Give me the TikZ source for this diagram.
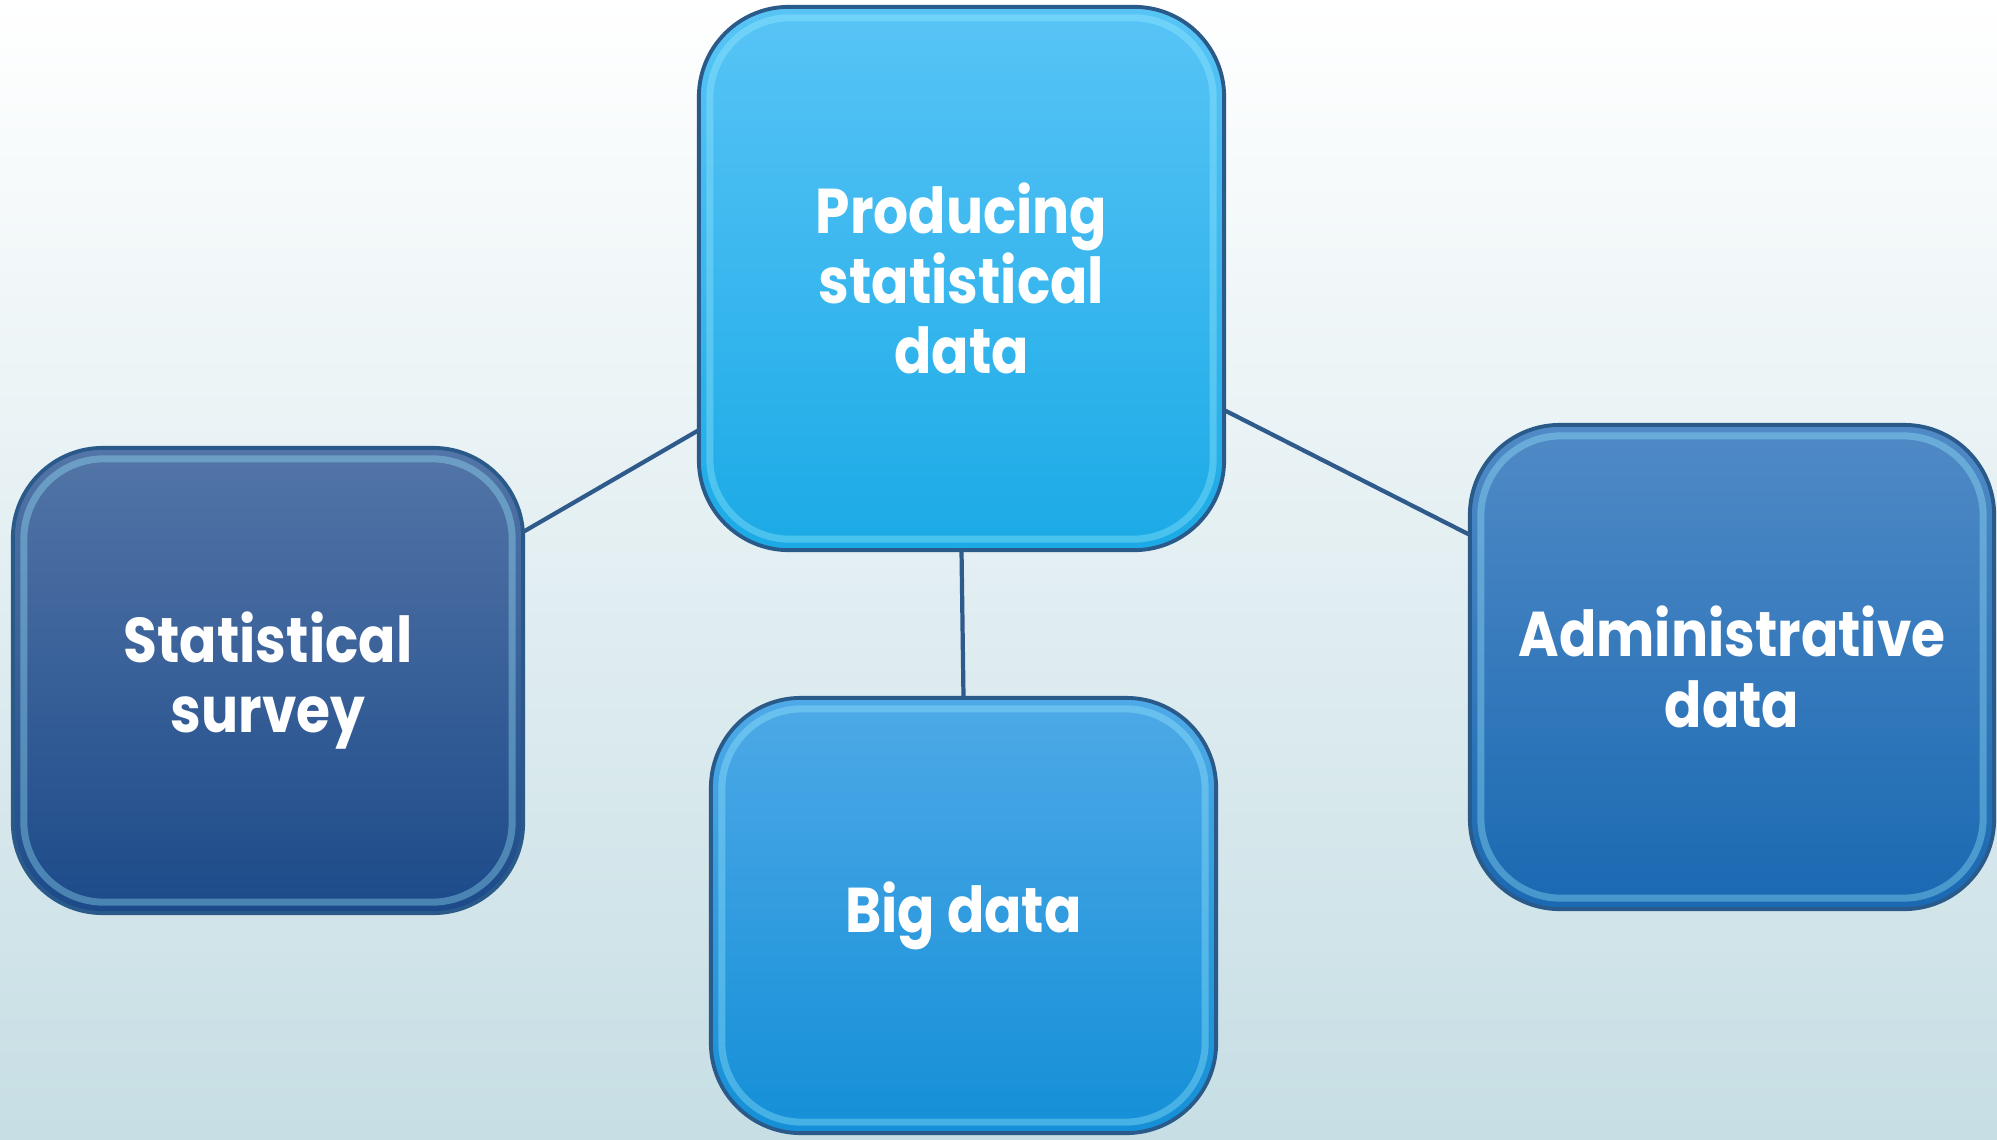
\documentclass[tikz,border=0pt]{standalone}
\usepackage{fontspec}
\setmainfont{Poppins}[FakeStretch=0.87]
\definecolor{bgtop}{HTML}{FFFFFF}
\definecolor{bgbot}{HTML}{C6DEE4}
\definecolor{linecol}{HTML}{2F5A8C}
\definecolor{edgecol}{HTML}{2A5A8A}
\definecolor{cTopA}{HTML}{58C4F6}
\definecolor{cTopB}{HTML}{1BAAE6}
\definecolor{cLeftA}{HTML}{5375A7}
\definecolor{cLeftB}{HTML}{1C4A89}
\definecolor{cRightA}{HTML}{508AC6}
\definecolor{cRightB}{HTML}{1A69B2}
\definecolor{cBotA}{HTML}{4EA9E7}
\definecolor{cBotB}{HTML}{148FD7}
\definecolor{bevelcol}{HTML}{9FEFFF}
\tikzset{
  box/.style={draw=edgecol, line width=1.1pt, rounded corners=0.9cm, inner sep=0pt, outer sep=0pt,
    align=center, text=white, font=\fontsize{18}{20}\selectfont\bfseries},
  bevel/.style={draw=bevelcol, draw opacity=0.35, line width=2pt, rounded corners=0.8cm},
  conn/.style={draw=linecol, line width=1.2pt}
}
\begin{document}
\begin{tikzpicture}[x=0.01cm, y=-0.01cm]
\useasboundingbox (0,0) rectangle (1997,1139);
\shade[top color=bgtop, bottom color=bgbot] (0,0) rectangle (1997,1139);

\node[box, top color=cTopA, bottom color=cTopB, minimum width=5.25cm, minimum height=5.43cm] (prod) at (961.5,278.5) {Producing\\statistical\\data};
\node[box, top color=cLeftA, bottom color=cLeftB, minimum width=5.10cm, minimum height=4.65cm] (survey) at (268,680.5) {Statistical\\survey};
\node[box, top color=cRightA, bottom color=cRightB, minimum width=5.24cm, minimum height=4.84cm] (admin) at (1732,667) {Administrative\\data};
\node[box, top color=cBotA, bottom color=cBotB, minimum width=5.05cm, minimum height=4.35cm] (big) at (963.5,915.5) {Big data};

\foreach \n in {prod,survey,admin,big}{
  \draw[bevel] ([shift={(11,11)}]\n.north west) rectangle ([shift={(-11,-11)}]\n.south east);
}

\draw[conn] ([yshift=-1.515cm]prod.west) -- ([yshift=1.485cm]survey.east);
\draw[conn] ([yshift=-1.315cm]prod.east) -- ([yshift=1.32cm]admin.west);
\draw[conn] (prod.south) -- (big.north);
\end{tikzpicture}
\end{document}
